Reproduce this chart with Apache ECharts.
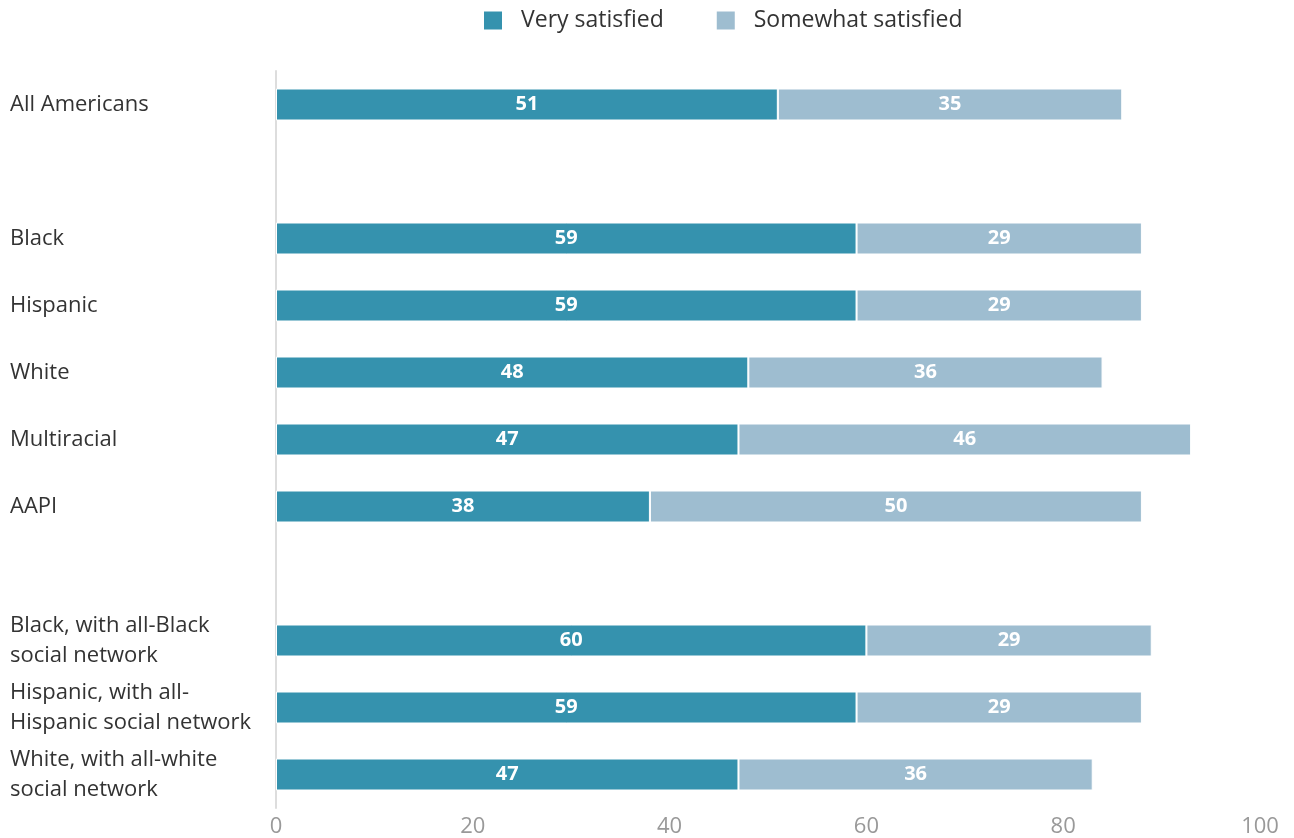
<!DOCTYPE html>
<html>
<head>
<meta charset="utf-8">
<script src="https://cdn.jsdelivr.net/npm/echarts@6/dist/echarts.min.js"></script>
<style>
html,body{margin:0;padding:0;background:#fff;}
#chart{width:1294px;height:838px;}
</style>
</head>
<body>
<div id="chart"></div>
<script>
const categories = [
  'All Americans',
  ' ',
  'Black',
  'Hispanic',
  'White',
  'Multiracial',
  'AAPI',
  '  ',
  'Black, with all-Black\nsocial network',
  'Hispanic, with all-\nHispanic social network',
  'White, with all-white\nsocial network'
];
const verySatisfied = [51, null, 59, 59, 48, 47, 38, null, 60, 59, 47];
const somewhatSatisfied = [35, null, 29, 29, 36, 46, 50, null, 29, 29, 36];
const xTicks = [0, 20, 40, 60, 80, 100];

const font = '"Open Sans", "Noto Sans", sans-serif';
const chart = echarts.init(document.getElementById('chart'));
const labelCfg = {
  show: true,
  position: 'inside',
  color: '#fff',
  fontWeight: 'bold',
  fontSize: 20,
  fontFamily: font
};
chart.setOption({
  animation: false,
  textStyle: { fontFamily: font },
  legend: {
    left: 477,
    top: 4,
    itemWidth: 20,
    itemHeight: 20,
    itemGap: 51,
    icon: 'rect',
    textStyle: { fontSize: 23, color: '#333', fontFamily: font, padding: [0, 0, 0, 13] },
    data: ['Very satisfied', 'Somewhat satisfied']
  },
  grid: { left: 276, right: 34, top: 71, bottom: 30, containLabel: false },
  xAxis: {
    type: 'value',
    min: 0,
    max: 100,
    interval: 20,
    axisLine: { show: false },
    axisTick: { show: false },
    splitLine: { show: false },
    axisLabel: {
      fontSize: 22,
      color: '#999',
      fontFamily: font,
      margin: 8,
      formatter: v => xTicks.includes(v) ? String(v) : ''
    }
  },
  yAxis: {
    type: 'category',
    inverse: true,
    data: categories,
    axisLine: { show: true, lineStyle: { color: '#ddd', width: 2 } },
    axisTick: { show: false },
    axisLabel: {
      align: 'left',
      margin: 266,
      fontSize: 22,
      lineHeight: 30,
      color: '#333',
      fontFamily: font
    }
  },
  series: [
    {
      name: 'Very satisfied',
      type: 'bar',
      stack: 's',
      barWidth: 32,
      data: verySatisfied,
      itemStyle: { color: '#3592ae', borderColor: '#fff', borderWidth: 1 },
      label: labelCfg
    },
    {
      name: 'Somewhat satisfied',
      type: 'bar',
      stack: 's',
      barWidth: 32,
      data: somewhatSatisfied,
      itemStyle: { color: '#9ebdd0', borderColor: '#fff', borderWidth: 1 },
      label: labelCfg
    }
  ]
});
</script>
</body>
</html>
